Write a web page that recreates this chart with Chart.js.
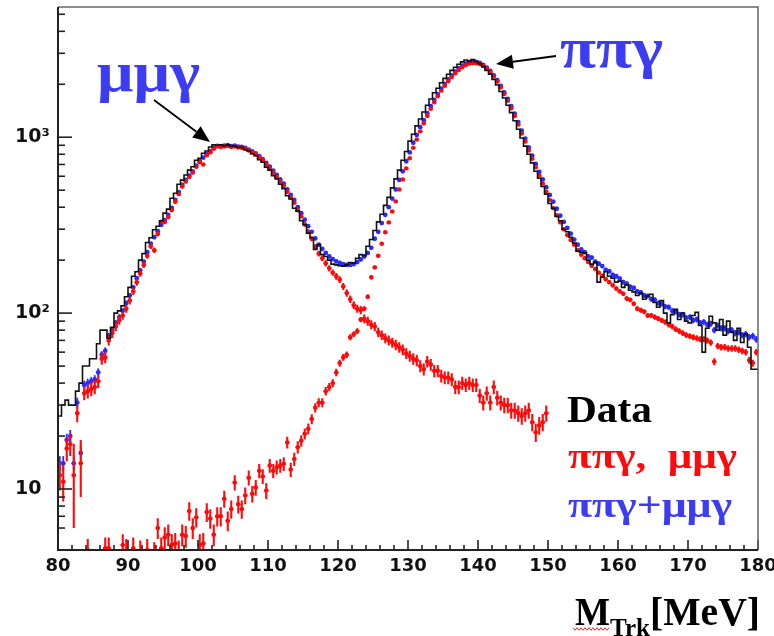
<!DOCTYPE html>
<html><head><meta charset="utf-8">
<script src="https://cdn.jsdelivr.net/npm/chart.js@4.4.0/dist/chart.umd.min.js"></script>
<style>html,body{margin:0;padding:0;background:#fff;}canvas{display:block;}</style>
</head><body>
<canvas id="c" width="774" height="636"></canvas>
<script>
// ---- binning (MeV) ----
const binStart = 80;
const binWidth = 0.5;

// ---- Data histogram (counts per 0.5 MeV bin, 80..180) ----
const dataCounts = [
 16, 26, 30, 32, 30, 30, 36, 40, 50, 50,
 55, 55, 67, 80, 80, 72, 83, 100, 103, 110,
 124, 140, 162, 172, 200, 218, 252, 268, 298, 312,
 335, 370, 390, 450, 480, 540, 570, 610, 650, 680,
 740, 760, 810, 835, 880, 905, 900, 905, 895, 905,
 890, 890, 875, 875, 850, 835, 805, 785, 745, 720,
 675, 650, 605, 580, 540, 510, 465, 445, 395, 380,
 335, 318, 285, 268, 230, 245, 215, 210, 200, 190,
 188, 186, 185, 188, 194, 192, 205, 215, 212, 240,
 262, 295, 330, 365, 410, 455, 515, 580, 650, 740,
 830, 950, 1040, 1160, 1270, 1390, 1520, 1650, 1790, 1900,
 2040, 2160, 2280, 2400, 2500, 2600, 2680, 2750, 2700, 2760,
 2690, 2620, 2520, 2400, 2280, 2130, 1980, 1820, 1670, 1520,
 1380, 1240, 1110, 990, 890, 800, 715, 640, 585, 525,
 475, 420, 395, 355, 335, 300, 290, 270, 250, 225,
 222, 220, 200, 190, 195, 150, 160, 172, 162, 158,
 150, 152, 140, 145, 135, 132, 126, 130, 120, 125,
 128, 115, 108, 118, 100, 88, 98, 105, 92, 100,
 90, 88, 97, 101, 85, 60, 82, 96, 88, 80,
 92, 75, 90, 78, 70, 82, 68, 76, 64, 48
];

// ---- MC sum pipig + mumug (blue) ----
const sumMC = [
 14, 14, 19, 20, 14, 31, 16, 39, 40, 41,
 42, 46, 58, 61, 74, 80, 88, 95, 103, 114,
 126, 140, 158, 175, 196, 222, 248, 270, 292, 318,
 338, 362, 396, 440, 488, 535, 572, 605, 640, 690,
 730, 765, 800, 830, 868, 893, 890, 895, 900, 890,
 895, 885, 880, 870, 850, 830, 810, 780, 750, 715,
 680, 645, 610, 575, 545, 505, 470, 440, 400, 370,
 340, 312, 290, 266, 245, 232, 220, 210, 203, 197,
 193, 190, 188, 188, 190, 195, 202, 210, 220, 235,
 265, 290, 325, 362, 400, 448, 505, 572, 640, 730,
 820, 930, 1030, 1140, 1250, 1370, 1500, 1630, 1760, 1890,
 2010, 2130, 2250, 2360, 2460, 2550, 2620, 2670, 2690, 2680,
 2650, 2580, 2490, 2380, 2250, 2110, 1960, 1800, 1650, 1500,
 1360, 1220, 1090, 980, 875, 785, 705, 635, 575, 520,
 470, 430, 392, 358, 330, 305, 283, 262, 245, 230,
 222, 210, 207, 196, 191, 185, 176, 173, 165, 162,
 157, 150, 147, 141, 139, 133, 131, 126, 125, 120,
 119, 114, 113, 109, 108, 103, 102, 98, 98, 94,
 95, 91, 92, 88, 89, 86, 87, 80, 85, 82,
 82, 79, 80, 77, 78, 75, 76, 73, 74, 71
];

// ---- MC pipig component (red) ----
const pipigMC = [
 null, null, null, null, null, null, null, null, 4.5, null,
 null, null, null, 4.6, 4.6, null, null, null, 4.8, 4.5,
 null, 4.6, null, 4.4, null, 4.5, null, 4.3, 6.0, 4.6,
 5.3, 5.5, 4.8, 4.9, 4.4, 5.5, 5.4, 7.5, 6.0, 6.9,
 4.8, 4.9, 7.4, 6.8, 5.5, 7.0, 7.0, 8.8, 6.6, 7.7,
 10.9, 8.2, 7.7, 9.2, 11.6, 9.4, 10.2, 12.7, 11.8, 9.8,
 13.6, 12.7, 13.3, 13.6, 13.9, 18.4, 12.9, 14.8, 17.3, 18.8,
 20.6, 22, 25, 29, 31, 31, 36, 38, 40, 46,
 52, 56, 58, 73, 76, 79, 92, 106, 124, 160,
 182, 212, 248, 288, 328, 378, 432, 505, 575, 665,
 760, 870, 970, 1080, 1200, 1320, 1450, 1580, 1710, 1840,
 1960, 2080, 2200, 2310, 2410, 2500, 2570, 2620, 2640, 2630,
 2610, 2540, 2450, 2340, 2210, 2070, 1920, 1760, 1610, 1460,
 1320, 1180, 1050, 945, 840, 755, 675, 605, 545, 490,
 440, 395, 360, 328, 300, 278, 260, 245, 228, 215,
 205, 195, 186, 178, 170, 163, 156, 150, 144, 138,
 133, 129, 121, 119, 113, 106, 104, 102, 97, 97,
 95, 93, 91, 89, 86, 84, 81, 79, 77, 75,
 74, 73, 72, 71, 71, 70, 68, 53, 65, 64,
 64, 63, 63, 63, 62, 61, 60, 54, 52, 60
];

// ---- MC mumug component (red), 80..150 MeV ----
const mumugMC = [
 12, 11, 17, 18, 12, 27, 14, 35, 36, 37,
 38, 41, 55, 56, 70, 77, 84, 91, 97, 106,
 118, 133, 150, 168, 188, 212, 240, 228, 282, 330,
 330, 352, 385, 430, 475, 525, 560, 595, 630, 680,
 720, 700, 790, 820, 860, 885, 880, 885, 890, 880,
 885, 875, 870, 860, 840, 820, 800, 770, 740, 700,
 665, 630, 595, 560, 530, 490, 455, 425, 385, 355,
 320, 290, 265, 238, 218, 205, 192, 180, 170, 162,
 155, 142, 130, 120, 111, 106, 104, 93, 90, 86,
 84, 78, 75, 72, 70, 68, 66, 64, 62, 59,
 57, 55, 54, 50, 48, 53, 51, 47, 47, 44,
 43, 43, 42, 38, 38, 40, 39, 40, 39, 39,
 34, 31, 35, 31, 38, 33, 31, 30, 30, 28,
 28, 27, 26, 27, 28, 24, 21, 23, 24, 27
];
// large MC errors in the first mumug bins
const mumugErrLow = [2.2, 2.5, 2.6, 2.6, 6.0, 3.0, 5.0, 3.0];

// ---- tick labels ----
const xTickLabels = ['80','90','100','110','120','130','140','150','160','170','180'];
const yTickLabels = { 10: '10', 100: '10\u00B2', 1000: '10\u00B3' };

// ---------------------------------------------------------------
const center = i => binStart + binWidth * (i + 0.5);
const stepPts = dataCounts.map((v, i) => ({ x: binStart + binWidth * i, y: v }));
stepPts.push({ x: binStart + binWidth * dataCounts.length, y: dataCounts[dataCounts.length - 1] });
const toPts = arr => arr.map((v, i) => ({ x: center(i), y: v }));

const sumErr = sumMC.map(v => v == null ? null : 0.37 * Math.sqrt(v));
const pipigErr = pipigMC.map(v => v == null ? null : 0.33 * Math.sqrt(v));
const mumugErr = mumugMC.map((v, i) => i < mumugErrLow.length ? mumugErrLow[i] : 0.55 * Math.sqrt(v));

const RED = '#ff0a0a', BLUE = '#2b2bff', TXTBLUE = '#3c3cf2';

const errorBarPlugin = {
  id: 'errbars',
  beforeDatasetDraw(chart, args) {
    const ds = chart.data.datasets[args.index];
    if (!ds.errors) return;
    const { ctx, chartArea: a, scales: { x, y } } = chart;
    ctx.save();
    ctx.beginPath(); ctx.rect(a.left, a.top, a.width, a.height); ctx.clip();
    ctx.strokeStyle = ds.errColor; ctx.lineWidth = ds.errWidth;
    ds.data.forEach((p, i) => {
      if (p.y == null) return;
      const e = ds.errors[i];
      const px = x.getPixelForValue(p.x);
      const y1 = y.getPixelForValue(Math.max(p.y - e, 0.01));
      const y2 = y.getPixelForValue(p.y + e);
      const yc = y.getPixelForValue(p.y);
      ctx.beginPath();
      ctx.moveTo(px, y1); ctx.lineTo(px, y2);
      if (ds.xErr) {
        ctx.moveTo(x.getPixelForValue(p.x - ds.xErr), yc);
        ctx.lineTo(x.getPixelForValue(p.x + ds.xErr), yc);
      }
      ctx.stroke();
    });
    ctx.restore();
  }
};

const frameTicksPlugin = {
  id: 'frameTicks',
  afterDatasetsDraw(chart) {
    const { ctx, chartArea: a, scales: { x, y } } = chart;
    ctx.save();
    ctx.strokeStyle = '#222'; ctx.lineWidth = 1.6;
    x.ticks.forEach(t => {
      const px = x.getPixelForValue(t.value);
      const major = Math.abs(t.value % 10) < 1e-6;
      ctx.beginPath(); ctx.moveTo(px, a.bottom); ctx.lineTo(px, a.bottom - (major ? 10 : 5)); ctx.stroke();
    });
    y.ticks.forEach(t => {
      const v = t.value;
      const e = Math.floor(Math.log10(v) + 1e-9);
      const m = v / Math.pow(10, e);
      if (Math.abs(m - Math.round(m)) > 1e-6) return;
      const py = y.getPixelForValue(v);
      if (py < a.top - 0.5 || py > a.bottom + 0.5) return;
      const major = Math.round(m) === 1;
      ctx.beginPath(); ctx.moveTo(a.left, py); ctx.lineTo(a.left + (major ? 14 : 7), py); ctx.stroke();
    });
    // frame
    ctx.strokeStyle = '#666'; ctx.lineWidth = 1.5;
    ctx.beginPath();
    ctx.moveTo(a.left, a.top); ctx.lineTo(a.right, a.top); ctx.lineTo(a.right, a.bottom);
    ctx.stroke();
    ctx.strokeStyle = '#222'; ctx.lineWidth = 2;
    ctx.beginPath();
    ctx.moveTo(a.left, a.top); ctx.lineTo(a.left, a.bottom); ctx.lineTo(a.right, a.bottom);
    ctx.stroke();
    ctx.restore();
  }
};

function fitText(ctx, text, x, base, size, width, color, family) {
  ctx.font = 'bold ' + size + 'px ' + (family || '"Liberation Serif"');
  const w = ctx.measureText(text).width;
  ctx.save();
  ctx.translate(x, base);
  ctx.scale(width / w, 1);
  ctx.fillStyle = color;
  ctx.textBaseline = 'alphabetic';
  ctx.textAlign = 'left';
  ctx.fillText(text, 0, 0);
  ctx.restore();
}
function arrow(ctx, x0, y0, x1, y1) {
  const ang = Math.atan2(y1 - y0, x1 - x0);
  const L = 17, W = 7;
  const bx = x1 - L * Math.cos(ang), by = y1 - L * Math.sin(ang);
  ctx.save();
  ctx.strokeStyle = '#000'; ctx.fillStyle = '#000'; ctx.lineWidth = 1.8;
  ctx.beginPath(); ctx.moveTo(x0, y0); ctx.lineTo(bx, by); ctx.stroke();
  ctx.beginPath();
  ctx.moveTo(x1, y1);
  ctx.lineTo(bx + W * Math.sin(ang), by - W * Math.cos(ang));
  ctx.lineTo(bx - W * Math.sin(ang), by + W * Math.cos(ang));
  ctx.closePath(); ctx.fill();
  ctx.restore();
}

const annotPlugin = {
  id: 'annot',
  afterDraw(chart) {
    const ctx = chart.ctx;
    fitText(ctx, '\u03BC\u03BC\u03B3', 97, 91, 58, 103, TXTBLUE);
    fitText(ctx, '\u03C0\u03C0\u03B3', 560, 67, 56, 103, TXTBLUE);
    arrow(ctx, 154, 100, 210, 142);
    arrow(ctx, 556, 56, 496, 64);
    fitText(ctx, 'Data', 567, 422, 37, 85, '#000');
    fitText(ctx, '\u03C0\u03C0\u03B3,  \u03BC\u03BC\u03B3', 568, 468, 36, 169, RED);
    fitText(ctx, '\u03C0\u03C0\u03B3+\u03BC\u03BC\u03B3', 568, 517, 36, 164, TXTBLUE);
    // axis title M_Trk[MeV]
    fitText(ctx, 'M', 575, 625, 40, 35, '#000');
    fitText(ctx, 'Trk', 610, 636, 26, 40, '#000');
    fitText(ctx, '[MeV]', 650, 625, 40, 110, '#000');
    // red squiggle under M
    ctx.save();
    ctx.strokeStyle = '#e22'; ctx.lineWidth = 1;
    ctx.beginPath();
    for (let px = 573, k = 0; px <= 610; px += 2, k++) {
      const py = 629 + (k % 2 ? 1.3 : -1.3);
      if (k === 0) ctx.moveTo(px, py); else ctx.lineTo(px, py);
    }
    ctx.stroke();
    ctx.restore();
  }
};

const tickFont = { family: '"DejaVu Sans"', weight: 'bold', size: 18 };

new Chart(document.getElementById('c'), {
  type: 'line',
  data: {
    datasets: [
      { label: 'Data', type: 'line', data: stepPts, stepped: 'after', borderColor: '#111',
        borderWidth: 1.6, pointRadius: 0, fill: false, clip: 0 },
      { label: 'mumug', type: 'scatter', data: toPts(mumugMC), backgroundColor: RED, borderColor: RED,
        pointRadius: 2.2, borderWidth: 0, errors: mumugErr, errColor: RED, errWidth: 2.1, xErr: 0.3, clip: 0 },
      { label: 'pipig', type: 'scatter', data: toPts(pipigMC), backgroundColor: RED, borderColor: RED,
        pointRadius: 2.2, borderWidth: 0, errors: pipigErr, errColor: RED, errWidth: 2.1, xErr: 0.3, clip: 0 },
      { label: 'sum', type: 'scatter', data: toPts(sumMC), backgroundColor: BLUE, borderColor: BLUE,
        pointRadius: 2.4, borderWidth: 0, errors: sumErr, errColor: BLUE, errWidth: 1.8, clip: 0 }
    ]
  },
  options: {
    responsive: false,
    animation: false,
    devicePixelRatio: 1,
    layout: { padding: { left: 15, right: 16, top: 7, bottom: 0 } },
    plugins: { legend: { display: false }, tooltip: { enabled: false } },
    scales: {
      x: {
        type: 'linear', min: 80, max: 180,
        grid: { display: false, drawTicks: false },
        border: { display: false },
        ticks: {
          stepSize: 2, autoSkip: false, maxRotation: 0, padding: 6,
          color: '#111', font: tickFont,
          callback: v => (xTickLabels.includes(String(v)) ? String(v) : '')
        },
        afterFit: s => { s.height = 86; s.paddingLeft = 0; s.paddingRight = 0; }
      },
      y: {
        type: 'logarithmic', min: 4.5, max: 5500,
        grid: { display: false, drawTicks: false },
        border: { display: false },
        ticks: {
          autoSkip: false, crossAlign: 'far', padding: 0,
          color: '#111', font: { family: '"DejaVu Sans"', weight: 'bold', size: 19 },
          callback: v => (yTickLabels[v] !== undefined ? yTickLabels[v] : '')
        },
        afterFit: s => { s.width = 43; s.paddingTop = 0; s.paddingBottom = 0; }
      }
    }
  },
  plugins: [errorBarPlugin, frameTicksPlugin, annotPlugin]
});
</script>
</body></html>
